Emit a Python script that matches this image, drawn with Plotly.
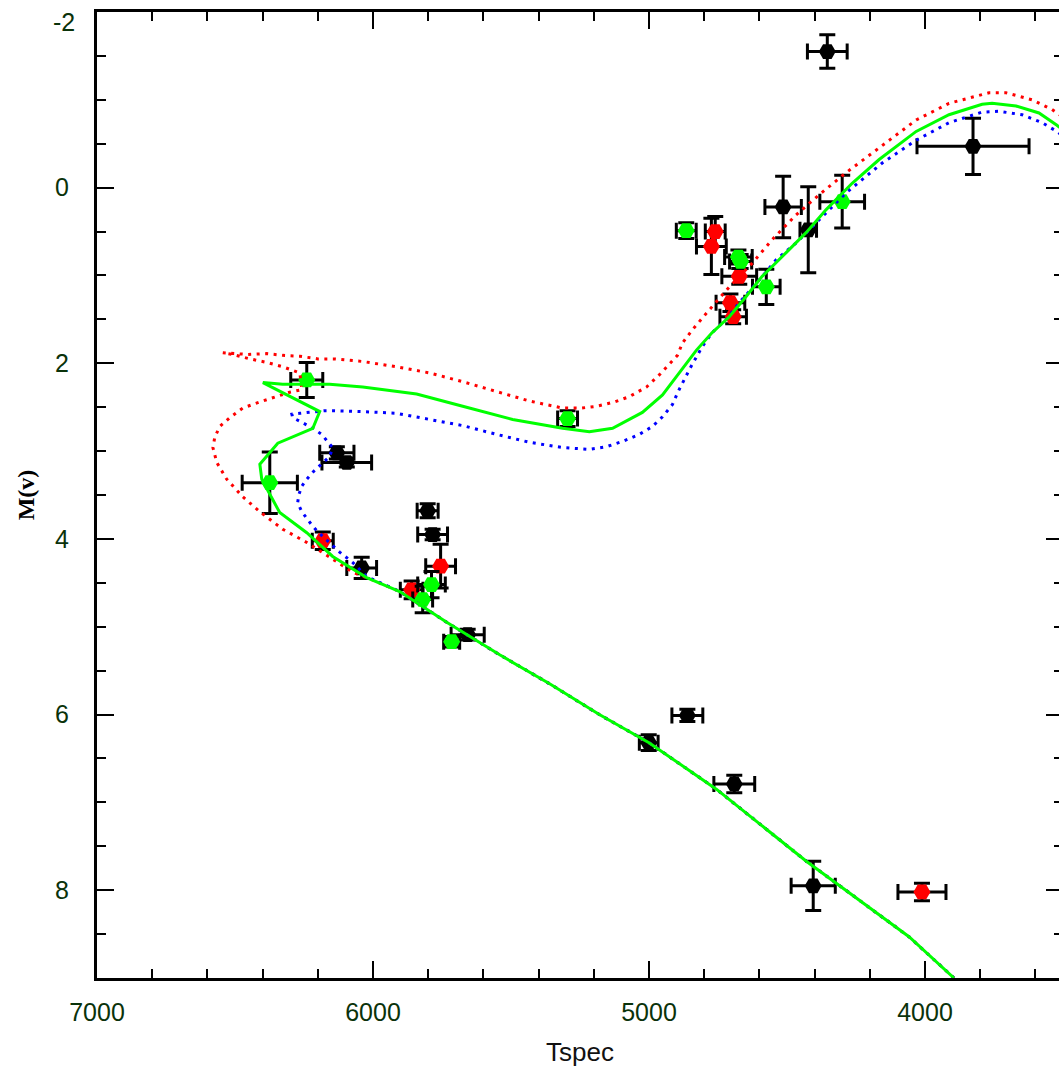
import plotly.graph_objects as go

# ---------------- data ----------------
# Observed stars: Tspec, M(v), errors
black_T = [4354, 3826, 4514, 4423, 6131, 6095, 5802, 5784, 6041, 5657, 4861, 5001, 4691, 4405]
black_M = [-1.55, -0.47, 0.22, 0.48, 3.02, 3.13, 3.68, 3.95, 4.33, 5.09, 6.01, 6.32, 6.79, 7.95]
black_Terr = [72, 203, 66, 30, 62, 90, 38, 54, 54, 60, 56, 34, 74, 80]
black_Merr = [0.19, 0.32, 0.35, 0.49, 0.07, 0.05, 0.08, 0.06, 0.12, 0.06, 0.07, 0.09, 0.10, 0.28]

red_T = [4760, 4774, 4673, 4705, 4695, 6182, 5755, 5860, 4011]
red_M = [0.50, 0.67, 1.01, 1.31, 1.47, 4.02, 4.31, 4.58, 8.02]
red_Terr = [36, 54, 63, 52, 48, 38, 54, 41, 87]
red_Merr = [0.17, 0.32, 0.09, 0.10, 0.08, 0.10, 0.25, 0.10, 0.10]

green_T = [4865, 4676, 4668, 4575, 4300, 6240, 6374, 5295, 5788, 5820, 5715]
green_M = [0.49, 0.79, 0.84, 1.13, 0.16, 2.19, 3.36, 2.63, 4.52, 4.69, 5.17]
green_Terr = [36, 50, 40, 50, 81, 58, 100, 36, 50, 36, 29]
green_Merr = [0.09, 0.08, 0.08, 0.20, 0.30, 0.20, 0.35, 0.09, 0.15, 0.15, 0.06]

# Isochrones
ms_T = [3895, 4058, 4430, 4756, 5000, 5180, 5360, 5541, 5733, 5903]
ms_M = [9.00, 8.53, 7.67, 6.85, 6.32, 6.00, 5.65, 5.32, 4.95, 4.60]

green_iso_T = ms_T + [6023, 6146, 6240, 6338, 6403, 6410, 6345, 6218, 6193, 6399, 6327,
                      6157, 6037, 5842, 5675, 5494, 5313, 5216, 5132, 5024, 4951, 4890,
                      4828, 4771, 4709, 4648, 4590, 4503, 4430, 4358, 4264, 4166, 4032,
                      3913, 3793, 3757, 3670, 3587, 3522, 3470]
green_iso_M = ms_M + [4.44, 4.20, 3.93, 3.70, 3.32, 3.15, 2.91, 2.74, 2.55, 2.22, 2.24,
                      2.24, 2.27, 2.35, 2.49, 2.64, 2.74, 2.78, 2.74, 2.56, 2.36, 2.11,
                      1.85, 1.65, 1.47, 1.24, 1.01, 0.74, 0.51, 0.25, -0.05, -0.32, -0.64,
                      -0.83, -0.95, -0.96, -0.93, -0.85, -0.71, -0.58]

red_iso_T = ms_T + [6000, 6073, 6146, 6240, 6327, 6410, 6472, 6530, 6566, 6580, 6573, 6555,
                    6519, 6472, 6410, 6349, 6302, 6258, 6265, 6327, 6385, 6446, 6508, 6544,
                    6453, 6385, 6327, 6265, 6200, 6139, 6037, 5914, 5795, 5675, 5552, 5433,
                    5313, 5245, 5190, 5125, 5071, 5009, 4962, 4919, 4897, 4879, 4843, 4781,
                    4709, 4626, 4553, 4467, 4383, 4286, 4155, 4032, 3913, 3768, 3706, 3612,
                    3540, 3480]
red_iso_M = ms_M + [4.47, 4.38, 4.23, 4.04, 3.89, 3.69, 3.52, 3.32, 3.13, 2.96, 2.84, 2.72,
                    2.62, 2.51, 2.44, 2.38, 2.33, 2.30, 2.11, 2.04, 1.99, 1.95, 1.90, 1.88,
                    1.90, 1.89, 1.91, 1.92, 1.95, 1.95, 1.98, 2.04, 2.11, 2.21, 2.32, 2.43,
                    2.51, 2.51, 2.49, 2.44, 2.38, 2.27, 2.13, 1.99, 1.91, 1.77, 1.62, 1.39,
                    1.13, 0.86, 0.59, 0.31, 0.08, -0.17, -0.48, -0.77, -0.96, -1.08, -1.08, -1.00,
                    -0.89, -0.76]

blue_iso_T = ms_T + [6023, 6073, 6121, 6168, 6200, 6222, 6240, 6258, 6273, 6269, 6258, 6240,
                     6218, 6200, 6182, 6157, 6146, 6164, 6186, 6218, 6240, 6265, 6291, 6294,
                     6265, 6236, 6175, 6146, 6037, 5914, 5795, 5675, 5552, 5433, 5313, 5216,
                     5154, 5096, 5035, 4988, 4951, 4915, 4894, 4850, 4807, 4771, 4720, 4673,
                     4600, 4539, 4467, 4383, 4286, 4155, 4032, 3913, 3793, 3732, 3648, 3576,
                     3522, 3480]
blue_iso_M = ms_M + [4.43, 4.27, 4.15, 4.01, 3.92, 3.84, 3.76, 3.69, 3.59, 3.50, 3.40, 3.32,
                     3.24, 3.19, 3.13, 3.06, 2.96, 2.89, 2.81, 2.74, 2.70, 2.66, 2.62, 2.58,
                     2.57, 2.56, 2.54, 2.54, 2.55, 2.57, 2.64, 2.71, 2.81, 2.90, 2.96, 2.98,
                     2.95, 2.89, 2.81, 2.72, 2.61, 2.47, 2.32, 2.05, 1.81, 1.65, 1.50, 1.31,
                     1.05, 0.82, 0.63, 0.37, 0.06, -0.28, -0.54, -0.74, -0.86, -0.87, -0.83, -0.74,
                     -0.64, -0.54]

x_tickvals = [7000, 6000, 5000, 4000]
y_tickvals = [-2, 0, 2, 4, 6, 8]

# ---------------- figure ----------------
fig = go.Figure()


def stars(T, M, Te, Me, color):
    return go.Scatter(
        x=T, y=M, mode="markers",
        marker=dict(symbol="hexagon2", size=17, color=color, line=dict(width=0)),
        error_x=dict(type="data", array=Te, color="black", thickness=3, width=8),
        error_y=dict(type="data", array=Me, color="black", thickness=3, width=8),
        showlegend=False, hoverinfo="skip",
    )


fig.add_trace(stars(black_T, black_M, black_Terr, black_Merr, "black"))
fig.add_trace(stars(red_T, red_M, red_Terr, red_Merr, "#ff0000"))
fig.add_trace(stars(green_T, green_M, green_Terr, green_Merr, "#00ff00"))

fig.add_trace(go.Scatter(x=red_iso_T, y=red_iso_M, mode="lines",
                         line=dict(color="#ff0000", width=3, dash="3px,5.5px"),
                         showlegend=False, hoverinfo="skip"))
fig.add_trace(go.Scatter(x=blue_iso_T, y=blue_iso_M, mode="lines",
                         line=dict(color="#0000ff", width=3, dash="3px,5.5px"),
                         showlegend=False, hoverinfo="skip"))
fig.add_trace(go.Scatter(x=green_iso_T, y=green_iso_M, mode="lines",
                         line=dict(color="#00ff00", width=3),
                         showlegend=False, hoverinfo="skip"))

tick_font = dict(family="Liberation Sans, Arial, sans-serif", size=25, color="#0a320a")

# top tick label (-2) placed as annotation so it stays fully inside the canvas
y_ticktext = ["" if v == y_tickvals[0] else str(v) for v in y_tickvals]
fig.add_annotation(x=0, xref="paper", y=y_tickvals[0], yref="y", text=str(y_tickvals[0]),
                   showarrow=False, xanchor="right", yanchor="top", xshift=-20, yshift=6,
                   font=tick_font)

fig.update_layout(
    width=1080, height=1067,
    margin=dict(l=97, r=17, t=12, b=89, autoexpand=False),
    paper_bgcolor="white", plot_bgcolor="white",
    xaxis=dict(
        range=[7000, 3500], tickvals=x_tickvals, ticktext=[str(v) for v in x_tickvals],
        ticks="inside", ticklen=17, tickwidth=2, tickcolor="black",
        minor=dict(dtick=200, ticks="inside", ticklen=9, tickwidth=2, tickcolor="black"),
        showline=True, linecolor="black", linewidth=3, mirror="ticks",
        showgrid=False, zeroline=False, tickfont=tick_font, ticklabelstandoff=10,
        automargin=False, ticklabeloverflow="allow",
        title=dict(text="Tspec", font=dict(family="Liberation Sans, Arial, sans-serif",
                                           size=26, color="#111111"), standoff=18),
    ),
    yaxis=dict(
        range=[9, -2], tickvals=y_tickvals, ticktext=y_ticktext,
        ticks="inside", ticklen=17, tickwidth=2, tickcolor="black",
        minor=dict(dtick=0.5, ticks="inside", ticklen=9, tickwidth=2, tickcolor="black"),
        showline=True, linecolor="black", linewidth=3, mirror="ticks",
        showgrid=False, zeroline=False, tickfont=tick_font, ticklabelstandoff=20,
        automargin=False, ticklabeloverflow="allow",
        title=dict(text="<b>M(v)</b>", font=dict(family="Liberation Serif, serif",
                                                size=24, color="black"), standoff=14),
    ),
)

fig.write_html("out.html", post_script=(
    "document.body.style.overflow='hidden';"
    "document.documentElement.style.overflow='hidden';"
    "document.body.style.margin='0';"
))
